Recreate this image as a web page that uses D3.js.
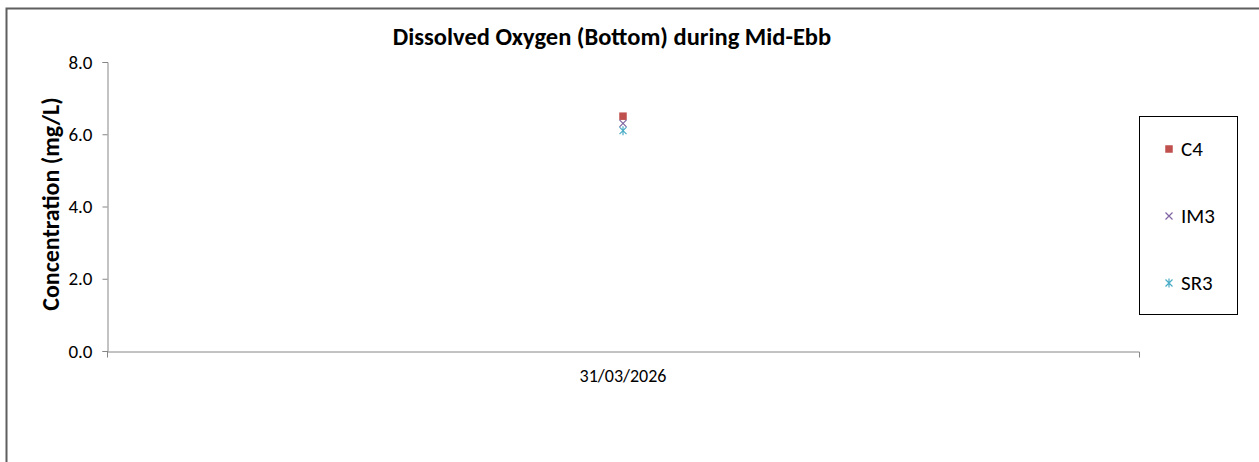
<!DOCTYPE html>
<html>
<head>
<meta charset="utf-8">
<script src="https://cdn.jsdelivr.net/npm/d3@7"></script>
<style>
    html, body { margin: 0; padding: 0; background: #fff; }
    svg { display: block; font-family: Carlito, Calibri, "Open Sans", sans-serif; }
</style>
</head>
<body>
<div id="chart"></div>
<script>
const WIDTH = 1259;
const HEIGHT = 462;
const MARGIN = { top: 62, right: 120, bottom: 111, left: 107 };

const categories = ['31/03/2026'];
const seriesNames = ['C4', 'IM3', 'SR3'];
const seriesColors = ['#C0504D', '#8064A2', '#4BACC6'];
const seriesMarkers = ['square', 'x', 'star'];
const c4Values = [6.5];
const im3Values = [6.3];
const sr3Values = [6.1];
const yTicks = [0, 2, 4, 6, 8];

const series = seriesNames.map((name, i) => ({
    name: name,
    color: seriesColors[i],
    marker: seriesMarkers[i],
    values: [c4Values, im3Values, sr3Values][i]
}));

const svg = d3.select('#chart').append('svg')
    .attr('width', WIDTH)
    .attr('height', HEIGHT);

// outer chart frame (goes past the window on right/bottom)
svg.append('rect')
    .attr('x', 6.5).attr('y', 8.5)
    .attr('width', WIDTH + 20).attr('height', HEIGHT + 20)
    .attr('fill', 'none')
    .attr('stroke', '#5f5f5f')
    .attr('stroke-width', 2);

const x = d3.scaleBand()
    .domain(categories)
    .range([MARGIN.left, WIDTH - MARGIN.right]);

const y = d3.scaleLinear()
    .domain([0, 8])
    .range([HEIGHT - MARGIN.bottom, MARGIN.top]);

svg.append('text')
    .attr('x', 612).attr('y', 45)
    .attr('text-anchor', 'middle')
    .attr('font-size', 24.5)
    .attr('font-weight', 'bold')
    .text('Dissolved Oxygen (Bottom) during Mid-Ebb');

// y axis
const yAxis = svg.append('g')
    .attr('transform', `translate(${MARGIN.left + 0.5},0)`)
    .attr('font-family', null)
    .call(d3.axisLeft(y).tickValues(yTicks).tickFormat(d3.format('.1f')).tickSize(5).tickPadding(10));
yAxis.attr('font-family', null).attr('font-size', null);
yAxis.select('.domain').attr('stroke', '#868686');
yAxis.selectAll('.tick line').attr('stroke', '#868686');
yAxis.selectAll('.tick text').attr('font-size', 19).attr('fill', '#000');

// x axis
const xAxis = svg.append('g')
    .attr('transform', `translate(0,${y(0) + 0.5})`)
    .call(d3.axisBottom(x).tickSize(0).tickPadding(18).tickSizeOuter(6));
xAxis.attr('font-family', null).attr('font-size', null);
xAxis.select('.domain').attr('stroke', '#868686');
xAxis.selectAll('.tick text').attr('font-size', 18).attr('fill', '#000');

svg.append('text')
    .attr('transform', `translate(59,204) rotate(-90)`)
    .attr('text-anchor', 'middle')
    .attr('font-size', 24)
    .attr('font-weight', 'bold')
    .text('Concentration (mg/L)');

const drawMarker = (g, marker, color) => {
    if (marker === 'square') {
        g.append('rect')
            .attr('x', -3.75).attr('y', -3.75)
            .attr('width', 7.5).attr('height', 7.5)
            .attr('fill', color);
    } else if (marker === 'x') {
        g.append('path')
            .attr('d', 'M-3.5,-3.5L3.5,3.5M-3.5,3.5L3.5,-3.5')
            .attr('stroke', color).attr('stroke-width', 1.2);
    } else {
        g.append('path')
            .attr('d', 'M-3.5,-3.5L3.5,3.5M-3.5,3.5L3.5,-3.5M0,-4.5L0,4.5')
            .attr('stroke', color).attr('stroke-width', 1.2);
    }
};

series.forEach(s => {
    s.values.forEach((v, i) => {
        const g = svg.append('g')
            .attr('transform', `translate(${x(categories[i]) + x.bandwidth() / 2},${y(v)})`);
        drawMarker(g, s.marker, s.color);
    });
});

// legend
const legend = svg.append('g');
legend.append('rect')
    .attr('x', 1139.5).attr('y', 116.5)
    .attr('width', 98).attr('height', 198)
    .attr('fill', '#fff')
    .attr('stroke', '#000');

series.forEach((s, i) => {
    const yy = 149 + i * 67;
    const g = legend.append('g').attr('transform', `translate(1169,${yy})`);
    drawMarker(g, s.marker, s.color);
    legend.append('text')
        .attr('x', 1181).attr('y', yy + 7)
        .attr('font-size', 21)
        .text(s.name);
});
</script>
</body>
</html>
